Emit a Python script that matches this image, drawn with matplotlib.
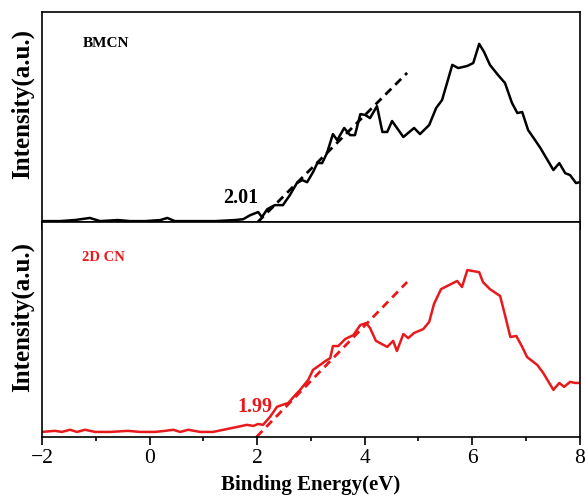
import numpy as np
import matplotlib
matplotlib.use('Agg')
import matplotlib.pyplot as plt

# BMCN spectrum (binding energy eV, intensity a.u.)
bmcn_x = [-2.0, -1.67, -1.39, -1.11, -0.92, -0.59, -0.36, -0.08, 0.20, 0.33, 0.47,
          0.85, 1.22, 1.59, 1.74, 1.87, 2.02, 2.09, 2.19, 2.33, 2.48, 2.61, 2.74,
          2.84, 2.93, 3.04, 3.12, 3.21, 3.30, 3.41, 3.49, 3.62, 3.73, 3.82, 3.92,
          4.01, 4.10, 4.23, 4.33, 4.42, 4.51, 4.72, 4.92, 5.03, 5.20, 5.33, 5.44,
          5.63, 5.74, 5.91, 6.02, 6.13, 6.22, 6.33, 6.48, 6.61, 6.74, 6.84, 6.93,
          7.04, 7.17, 7.27, 7.51, 7.62, 7.73, 7.82, 7.93, 8.0]
bmcn_y = [0.005, 0.005, 0.01, 0.02, 0.005, 0.01, 0.005, 0.005, 0.01, 0.02, 0.005,
          0.005, 0.005, 0.01, 0.014, 0.033, 0.048, 0.024, 0.062, 0.081, 0.081, 0.129, 0.186,
          0.2, 0.19, 0.238, 0.281, 0.281, 0.329, 0.419, 0.39, 0.448, 0.414, 0.414, 0.514,
          0.51, 0.495, 0.552, 0.429, 0.429, 0.481, 0.405, 0.448, 0.419, 0.462, 0.543, 0.581,
          0.748, 0.733, 0.743, 0.757, 0.848, 0.81, 0.748, 0.70, 0.662, 0.567, 0.519, 0.524,
          0.438, 0.39, 0.352, 0.248, 0.281, 0.233, 0.224, 0.186, 0.19]

# 2D CN spectrum
cn_x = [-2.0, -1.76, -1.63, -1.48, -1.35, -1.2, -1.01, -0.73, -0.4, -0.18, 0.10,
        0.29, 0.44, 0.57, 0.72, 0.94, 1.18, 1.55, 1.81, 1.93, 2.02, 2.11, 2.24,
        2.37, 2.47, 2.58, 2.71, 2.80, 2.95, 3.04, 3.17, 3.27, 3.36, 3.41, 3.51,
        3.64, 3.79, 3.92, 4.03, 4.10, 4.21, 4.42, 4.53, 4.60, 4.72, 4.81, 4.92,
        5.09, 5.20, 5.29, 5.42, 5.72, 5.81, 5.91, 6.13, 6.20, 6.33, 6.52, 6.61,
        6.71, 6.82, 6.93, 7.02, 7.21, 7.32, 7.51, 7.62, 7.71, 7.82, 7.92, 8.0]
cn_y = [0.023, 0.028, 0.023, 0.033, 0.023, 0.033, 0.023, 0.023, 0.028, 0.023, 0.023,
        0.028, 0.033, 0.023, 0.033, 0.023, 0.023, 0.042, 0.056, 0.051, 0.06, 0.056, 0.093,
        0.14, 0.149, 0.158, 0.195, 0.219, 0.265, 0.312, 0.335, 0.353, 0.367, 0.423, 0.423,
        0.456, 0.474, 0.521, 0.53, 0.507, 0.447, 0.419, 0.447, 0.40, 0.479, 0.46, 0.484,
        0.502, 0.535, 0.619, 0.688, 0.726, 0.698, 0.777, 0.767, 0.721, 0.688, 0.656, 0.567,
        0.465, 0.47, 0.419, 0.372, 0.335, 0.298, 0.219, 0.251, 0.233, 0.256, 0.251, 0.251]

# band-edge tangent lines
bmcn_fit_x = [2.01, 4.79]
bmcn_fit_y = [0.0, 0.71]
cn_fit_x = [1.99, 4.79]
cn_fit_y = [0.0, 0.721]

red = '#e8191c'
plt.rcParams['font.family'] = ['Liberation Serif', 'DejaVu Serif']
plt.rcParams['axes.linewidth'] = 1.2

fig = plt.figure(figsize=(5.85, 4.97), dpi=100)
ax1 = fig.add_axes([0.0718, 0.553, 0.9192, 0.423])
ax2 = fig.add_axes([0.0718, 0.121, 0.9192, 0.432], sharex=ax1)

ax1.plot(bmcn_x, bmcn_y, 'k', lw=1.8)
ax1.plot(bmcn_fit_x, bmcn_fit_y, 'k--', lw=2, dashes=(3, 2))
ax1.text(-1.24, 0.848, 'BMCN', fontsize=11, fontweight='bold', va='center')
ax1.text(1.70, 0.114, '2.01', fontsize=14.5, fontweight='bold', ha='center', va='center')

ax2.plot(cn_x, cn_y, color=red, lw=1.8)
ax2.plot(cn_fit_x, cn_fit_y, '--', color=red, lw=2, dashes=(3, 2))
ax2.text(-1.26, 0.837, '2D CN', fontsize=10.5, fontweight='bold', va='center', color=red)
ax2.text(1.96, 0.14, '1.99', fontsize=14.5, fontweight='bold', ha='center', va='center', color=red)

for ax in (ax1, ax2):
    ax.set_ylim(0, 1.0)
    ax.set_yticks([])
    ax.set_ylabel('Intensity(a.u.)', fontsize=18, fontweight='bold')
    ax.yaxis.set_label_coords(-0.015, 0.56)
    ax.set_xticks([-2, 0, 2, 4, 6, 8])
    ax.set_xticks(np.arange(-1, 8, 2), minor=True)
    ax.tick_params(axis='x', which='major', direction='out', length=6, width=1.2, pad=2.5, labelsize=15.5)
    ax.tick_params(axis='x', which='minor', direction='out', length=3, width=1.2)

ax1.set_xlim(-2, 8)
ax1.tick_params(axis='x', labelbottom=False)
ax2.set_xlabel('Binding Energy(eV)', fontsize=15, fontweight='bold', labelpad=5)

fig.savefig('out.png', dpi=100)
